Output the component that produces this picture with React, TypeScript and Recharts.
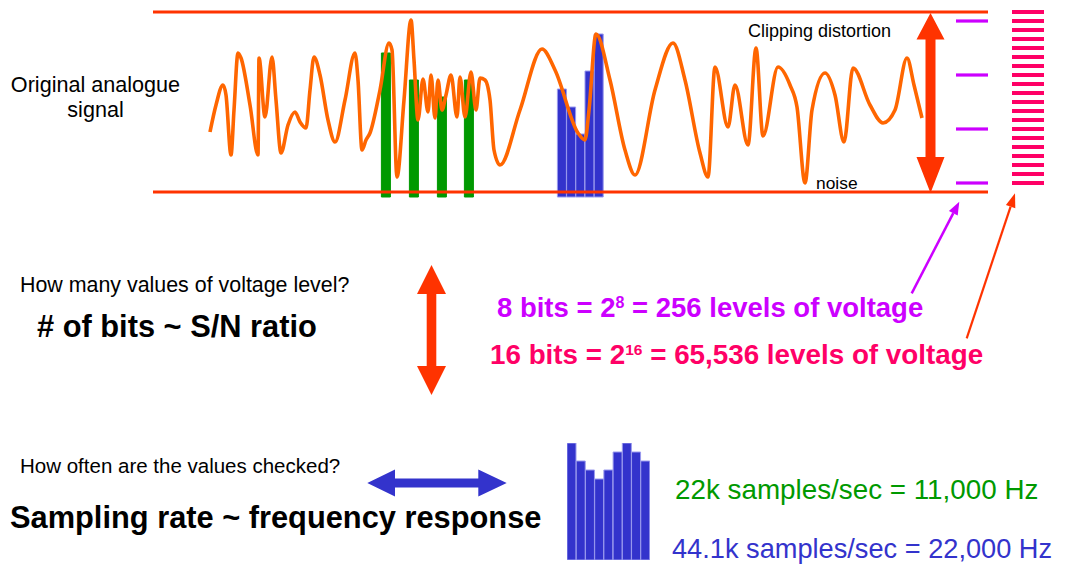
import React from 'react';
import { ComposedChart, BarChart, Bar, Line, XAxis, YAxis, ReferenceLine, Cell } from 'recharts';

// Analogue signal: time (arbitrary units) vs voltage (clip levels at ±90)
const waveTime = [57,63,70,73,78,81,85,88,97,105,106,112,119,123,128,135,142,147,153,157,161,167,175,182,192,202,205,209,213,217,227,236,239,244,251,258,261,265,270,275,278,282,285,289,293,298,304,307,312,318,323,327,332,337,341,347,367,389,402,425,432,436,443,457,472,482,502,520,532,547,555,562,575,582,595,603,610,625,637,644,652,659,672,682,691,700,717,730,742,754,761,769];
const waveVoltage = [-30,-3,17,7,-53,-8,49,44,-3,-53,44,-15,45,2,-51,-23,-10,-20,-26,12,45,27,-18,-40,2,49,22,-48,-38,-31,12,59,52,-75,2,82,42,-18,23,-10,27,-16,22,-8,7,27,-15,25,-15,30,-8,24,22,2,-48,-63,-8,53,32,-31,-38,-8,68,22,-48,-73,12,59,22,-51,-75,35,-25,17,-43,54,-34,35,17,-5,-81,-8,29,7,-40,34,-3,-21,-8,44,17,-16];

const clipLevels = [90, -90];
const levels8bit = [81, 27, -27, -81];
const levels16bit = [90, 81, 72, 63, 54, 45, 36, 27, 18, 9, 0, -9, -18, -27, -36, -45, -54, -63, -72, -81];

const sampleTime22k = [233, 261, 289, 316];
const sampleValue22k = [49, 22, 5, 22];
const sampleTime44k = [409, 418.2, 427.4, 436.6, 445.8];
const sampleValue44k = [13, -5, -32, 31, 68];
const sampleFloor = -95;

const histogramBins = ['1', '2', '3', '4', '5', '6', '7', '8', '9'];
const histogramValues = [13, 11, 10, 9, 10, 12, 13, 12, 11];

const RED = '#ff3300';
const ORANGE = '#ff6600';
const GREEN = '#009900';
const BLUE = '#3333cc';
const MAGENTA = '#cc00ff';
const PINK = '#ff0066';
const FONT = "'Liberation Sans', Arial, Helvetica, sans-serif";

const waveData = waveTime.map((t, i) => ({ t, v: waveVoltage[i] }));
const sampleData = [
  ...sampleTime22k.map((t, i) => ({ t, range: [sampleFloor, sampleValue22k[i]], color: GREEN, stroke: GREEN })),
  ...sampleTime44k.map((t, i) => ({ t, range: [sampleFloor, sampleValue44k[i]], color: BLUE, stroke: '#9a9aee' })),
];
const histData = histogramBins.map((b, i) => ({ b, v: histogramValues[i] }));

const MARGIN = { top: 2, right: 20, bottom: 363, left: 153 };
const XDOM: [number, number] = [0, 895];
const YDOM: [number, number] = [-100, 100];

export default function App() {
  return (
    <div style={{ position: 'absolute', left: 0, top: 0, width: 1068, height: 565, background: '#fff', overflow: 'hidden' }}>
      <div style={{ position: 'absolute', left: 0, top: 0 }}>
        <ComposedChart width={1068} height={565} data={sampleData} margin={MARGIN}>
          <XAxis type="number" dataKey="t" domain={XDOM} hide />
          <YAxis type="number" domain={YDOM} hide />
          <Bar dataKey="range" barSize={9} isAnimationActive={false}>
            {sampleData.map((d, i) => (
              <Cell key={i} fill={d.color} stroke={d.stroke} strokeWidth={1} />
            ))}
          </Bar>
        </ComposedChart>
      </div>
      <div style={{ position: 'absolute', left: 0, top: 0 }}>
        <ComposedChart width={1068} height={565} data={waveData} margin={MARGIN}>
          <XAxis type="number" dataKey="t" domain={XDOM} hide />
          <YAxis type="number" domain={YDOM} hide />
          {clipLevels.map((y) => (
            <ReferenceLine key={'c' + y} segment={[{ x: 0, y }, { x: 835, y }]} stroke={RED} strokeWidth={3} />
          ))}
          {levels8bit.map((y) => (
            <ReferenceLine key={'m' + y} segment={[{ x: 803, y }, { x: 835, y }]} stroke={MAGENTA} strokeWidth={3.2} />
          ))}
          {levels16bit.map((y) => (
            <ReferenceLine key={'p' + y} segment={[{ x: 859, y }, { x: 891, y }]} stroke={PINK} strokeWidth={4} />
          ))}
          <Line dataKey="v" type="monotone" stroke={ORANGE} strokeWidth={3.6} strokeLinejoin="round" dot={false} isAnimationActive={false} />
        </ComposedChart>
      </div>
      <div style={{ position: 'absolute', left: 567, top: 443 }}>
        <BarChart width={83} height={117} data={histData} margin={{ top: 0, right: 0, bottom: 0, left: 0 }} barCategoryGap={0}>
          <XAxis dataKey="b" hide />
          <YAxis domain={[0, 13]} hide />
          <Bar dataKey="v" fill={BLUE} stroke="#9a9aee" strokeWidth={1} isAnimationActive={false} />
        </BarChart>
      </div>
      <svg width={1068} height={565} style={{ position: 'absolute', left: 0, top: 0, pointerEvents: 'none' }} fontFamily={FONT}>
        <text x={95.5} y={92} fontSize={21.6} textAnchor="middle" fill="#000">Original analogue</text>
        <text x={95.5} y={117} fontSize={21.6} textAnchor="middle" fill="#000">signal</text>
        <text x={748} y={36.5} fontSize={18} fill="#000">Clipping distortion</text>
        <text x={816} y={188.5} fontSize={17.4} fill="#000">noise</text>

        {/* big vertical red arrow on the right */}
        <polygon fill={RED} points="930.5,13 944.5,39.5 935.5,39.5 935.5,157 944.5,157 930.5,193 916.5,157 925.5,157 925.5,39.5 916.5,39.5" />
        {/* middle vertical red arrow */}
        <polygon fill={RED} points="431.5,265 446,294 436.3,294 436.3,366 446,366 431.5,395 417,366 426.7,366 426.7,294 417,294" />
        {/* horizontal blue arrow */}
        <polygon fill={BLUE} points="367.3,483 395,469.5 395,478.5 478.3,478.5 478.3,469.5 506.7,483 478.3,496.5 478.3,487.5 395,487.5 395,496.5" />

        {/* thin pointer arrows */}
        <line x1={911.7} y1={293.3} x2={953.3} y2={213.2} stroke={MAGENTA} strokeWidth={2.5} />
        <polygon fill={MAGENTA} points="959.3,201.7 957.7,215.5 948.9,210.9" />
        <line x1={966.7} y1={338.3} x2={1010.6} y2={206.6} stroke={RED} strokeWidth={2.2} />
        <polygon fill={RED} points="1015,193.3 1015.3,208.2 1005.9,205" />

        <text x={20} y={292} fontSize={21.4} fill="#000">How many values of voltage level?</text>
        <text x={37} y={337} fontSize={30.8} fontWeight="bold" fill="#000"># of bits ~ S/N ratio</text>

        <text x={497} y={316.7} fontSize={27.5} fontWeight="bold" fill={MAGENTA}>
          8 bits = 2<tspan fontSize={16} dy={-9}>8</tspan><tspan dy={9}> = 256 levels of voltage</tspan>
        </text>
        <text x={490} y={364} fontSize={27.8} fontWeight="bold" fill={PINK}>
          16 bits = 2<tspan fontSize={15.5} dy={-9}>16</tspan><tspan dy={9}> = 65,536 levels of voltage</tspan>
        </text>

        <text x={20} y={473} fontSize={20.5} fill="#000">How often are the values checked?</text>
        <text x={10} y={528} fontSize={30.8} fontWeight="bold" fill="#000">Sampling rate ~ frequency response</text>

        <text x={675} y={499} fontSize={27.8} fill={GREEN}>22k samples/sec = 11,000 Hz</text>
        <text x={672} y={558} fontSize={27.2} fill={BLUE}>44.1k samples/sec = 22,000 Hz</text>
      </svg>
    </div>
  );
}
